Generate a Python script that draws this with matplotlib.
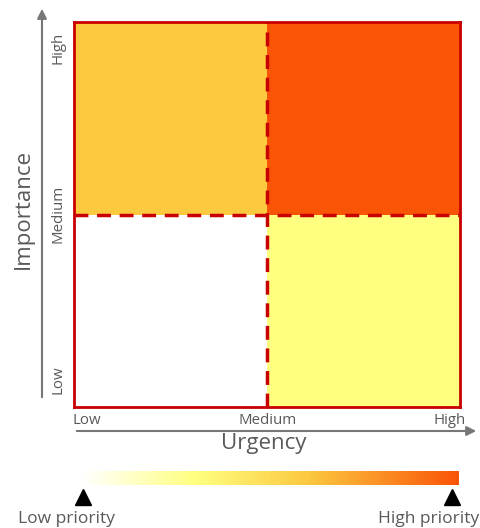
import numpy as np
import matplotlib
matplotlib.use('Agg')
from matplotlib import pyplot as plt
from matplotlib.patches import Rectangle, FancyArrowPatch
from matplotlib.colors import LinearSegmentedColormap

plt.rcParams['font.family'] = ['Open Sans', 'DejaVu Sans']

# Quadrant fills, row 0 = low importance, column 0 = low urgency
cell_colors = [["#FFFFFF", "#FFFF80"],
               ["#FCC93F", "#FA5407"]]
x_ticks = ["Low", "Medium", "High"]
y_ticks = ["Low", "Medium", "High"]
x_title = "Urgency"
y_title = "Importance"
scale_labels = ["Low priority", "High priority"]
scale_stops = [0.0, 0.3, 0.6, 1.0]
scale_colors = ["#FFFFFF", "#FFFF80", "#FCC940", "#FA5407"]

W, H = 480, 528
fig = plt.figure(figsize=(W / 100, H / 100), dpi=100)

def fx(px):
    return px / W

def fy(py):
    return 1 - py / H

grey = "#595959"
red = "#C80000"

# Matrix
ax = fig.add_axes([fx(74), fy(407), fx(460) - fx(74), fy(22) - fy(407)])
for i, row in enumerate(cell_colors):
    for j, c in enumerate(row):
        ax.add_patch(Rectangle((j, i), 1, 1, facecolor=c, edgecolor='none'))
ax.plot([1, 1], [0, 2], color=red, lw=2.5, ls=(0, (4, 2.5)))
ax.plot([0, 2], [1, 1], color=red, lw=2.5, ls=(0, (4, 2.5)))
ax.set_xlim(0, 2)
ax.set_ylim(0, 2)
ax.set_xticks([])
ax.set_yticks([])
for s in ax.spines.values():
    s.set_color(red)
    s.set_linewidth(2)

# Axis arrows
arrow = dict(arrowstyle='-|>', color='#777777', lw=1.5, mutation_scale=14)
fig.add_artist(FancyArrowPatch((fx(42), fy(400)), (fx(42), fy(6)),
                               transform=fig.transFigure, **arrow))
fig.add_artist(FancyArrowPatch((fx(74), fy(431)), (fx(479), fy(431)),
                               transform=fig.transFigure, **arrow))

# Tick labels
for lab, py in zip(y_ticks, [380, 214, 48]):
    fig.text(fx(58), fy(py), lab, rotation=90, ha='center', va='center', color=grey, fontsize=10.8)
for lab, px, ha in zip(x_ticks, [72, 268, 466], ['left', 'center', 'right']):
    fig.text(fx(px), fy(421), lab, ha=ha, va='center', color=grey, fontsize=10.8)

fig.text(fx(23), fy(209), y_title, rotation=90, ha='center', va='center', color=grey, fontsize=16)
fig.text(fx(264), fy(443), x_title, ha='center', va='center', color=grey, fontsize=16)

# Priority scale
cax = fig.add_axes([fx(82), fy(485), fx(458) - fx(82), fy(471) - fy(485)])
cmap = LinearSegmentedColormap.from_list('prio', list(zip(scale_stops, scale_colors)))
cax.imshow(np.linspace(0, 1, 256)[None, :], aspect='auto', cmap=cmap)
cax.axis('off')

for lab, px, tx in zip(scale_labels, [83, 452], [66, 429]):
    fig.add_artist(plt.Line2D([fx(px)], [fy(497)], marker='^', color='black',
                              markersize=11, transform=fig.transFigure))
    fig.text(fx(tx), fy(519), lab, ha='center', va='center', color=grey, fontsize=12.5)

fig.savefig('out.png', dpi=100)
